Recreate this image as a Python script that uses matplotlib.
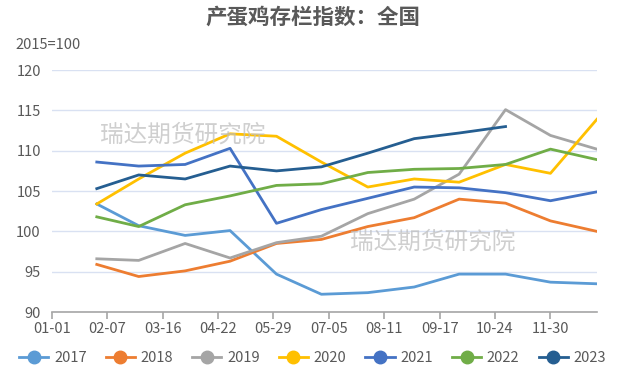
import matplotlib
matplotlib.use("Agg")
import matplotlib.pyplot as plt
import matplotlib.dates as mdates
import pandas as pd

plt.rcParams['font.family'] = ['Noto Sans CJK SC', 'DejaVu Sans']

# month-end observation dates (plotted on a common year axis)
dates = pd.to_datetime(['2021-01-31', '2021-02-28', '2021-03-31', '2021-04-30',
                        '2021-05-31', '2021-06-30', '2021-07-31', '2021-08-31',
                        '2021-09-30', '2021-10-31', '2021-11-30', '2021-12-31'])

years = ['2017', '2018', '2019', '2020', '2021', '2022', '2023']
colors = ['#5B9BD5', '#ED7D31', '#A5A5A5', '#FFC000', '#4472C4', '#70AD47', '#255E91']

v2017 = [103.4, 100.7, 99.5, 100.1, 94.7, 92.2, 92.4, 93.1, 94.7, 94.7, 93.7, 93.5]
v2018 = [95.9, 94.4, 95.1, 96.3, 98.5, 99.0, 100.6, 101.7, 104.0, 103.5, 101.3, 100.0]
v2019 = [96.6, 96.4, 98.5, 96.7, 98.6, 99.4, 102.2, 104.0, 107.1, 115.1, 111.9, 110.2]
v2020 = [103.4, 106.5, 109.7, 112.1, 111.8, 108.6, 105.5, 106.5, 106.1, 108.3, 107.2, 113.9]
v2021 = [108.6, 108.1, 108.3, 110.3, 101.0, 102.7, 104.1, 105.5, 105.4, 104.8, 103.8, 104.9]
v2022 = [101.8, 100.6, 103.3, 104.4, 105.7, 105.9, 107.3, 107.7, 107.8, 108.3, 110.2, 108.9]
v2023 = [105.3, 107.0, 106.5, 108.1, 107.5, 108.0, 109.7, 111.5, 112.2, 113.0]

series = [v2017, v2018, v2019, v2020, v2021, v2022, v2023]

ticks = pd.date_range('2021-01-01', periods=10, freq='37D')

fig = plt.figure(figsize=(6.25, 3.75), dpi=100)
ax = fig.add_axes([0.083, 0.168, 0.872, 0.645])

handles = []
for name, vals, c in zip(years, series, colors):
    ax.plot(dates[:len(vals)], vals, color=c, linewidth=2, zorder=3)
    h, = ax.plot([], [], color=c, linewidth=2, marker='o', markersize=9, label=name)
    handles.append(h)

ax.set_xlim(pd.Timestamp('2021-01-01'), pd.Timestamp('2021-12-31'))
ax.set_ylim(90, 120)
ax.set_yticks(range(90, 121, 5))
ax.set_xticks(ticks)
ax.xaxis.set_major_formatter(mdates.DateFormatter('%m-%d'))

ax.grid(axis='y', color='#D9E1F2', linewidth=1)
ax.set_axisbelow(True)
for s in ['top', 'right', 'left']:
    ax.spines[s].set_visible(False)
ax.spines['bottom'].set_color('#A6A6A6')
ax.spines['bottom'].set_linewidth(1.2)
ax.tick_params(axis='x', colors='#A6A6A6', length=5, width=1.2, labelcolor='#595959', labelsize=10.5, pad=2)
ax.tick_params(axis='y', length=0, labelcolor='#595959', labelsize=10.5, pad=8)

fig.text(0.5, 0.955, '产蛋鸡存栏指数：全国', ha='center', va='center',
         fontsize=15.5, fontweight='bold', color='#595959')
fig.text(0.024, 0.88, '2015=100', ha='left', va='center', fontsize=10.5, color='#595959')

fig.text(0.16, 0.64, '瑞达期货研究院', fontsize=17, color='#BFBFBF', alpha=0.75, va='center')
fig.text(0.56, 0.355, '瑞达期货研究院', fontsize=17, color='#BFBFBF', alpha=0.75, va='center')

fig.legend(handles=handles, loc='center', bbox_to_anchor=(0.5, 0.045), ncol=7, frameon=False,
           fontsize=10.5, handlelength=2.0, columnspacing=1.3, handletextpad=0.4,
           labelcolor='#595959', borderaxespad=0, borderpad=0)

fig.savefig('out.png', dpi=100)
